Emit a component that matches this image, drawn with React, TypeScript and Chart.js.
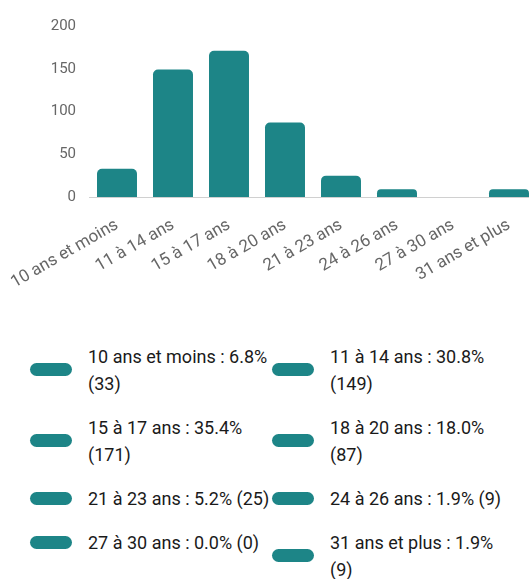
import React, { useEffect, useRef } from "react";
import { Chart, registerables } from "chart.js";

Chart.register(...registerables);

const categories = [
  "10 ans et moins",
  "11 à 14 ans",
  "15 à 17 ans",
  "18 à 20 ans",
  "21 à 23 ans",
  "24 à 26 ans",
  "27 à 30 ans",
  "31 ans et plus",
];
const counts = [33, 149, 171, 87, 25, 9, 0, 9];
const yTickValues = [0, 50, 100, 150, 200];

const TEAL = "#1d8587";
const total = counts.reduce((a, b) => a + b, 0);
const legendLabels = categories.map(
  (c, i) => `${c} : ${((counts[i] / total) * 100).toFixed(1)}% (${counts[i]})`
);

export default function App() {
  const canvasRef = useRef<HTMLCanvasElement | null>(null);

  useEffect(() => {
    if (!canvasRef.current) return;
    Chart.defaults.font.family = "Roboto, 'Liberation Sans', sans-serif";
    const chart = new Chart(canvasRef.current, {
      type: "bar",
      data: {
        labels: categories,
        datasets: [
          {
            data: counts,
            backgroundColor: TEAL,
            borderRadius: 5,
            borderSkipped: "start",
            barPercentage: 0.714,
            categoryPercentage: 1,
          },
        ],
      },
      options: {
        animation: false,
        responsive: true,
        maintainAspectRatio: false,
        layout: { padding: { top: 26, right: 8, left: 0, bottom: 0 } },
        plugins: {
          legend: { display: false },
          tooltip: { enabled: false },
        },
        scales: {
          x: {
            afterFit: (scale: any) => {
              scale.paddingLeft = 0;
              scale.paddingRight = 0;
            },
            grid: { display: false, drawTicks: false },
            border: { display: true, color: "#d0d0d0", width: 1 },
            ticks: {
              autoSkip: false,
              minRotation: 30,
              maxRotation: 30,
              padding: 18,
              color: "#666666",
              font: { size: 17 },
            },
          },
          y: {
            min: yTickValues[0],
            max: yTickValues[yTickValues.length - 1],
            afterFit: (scale: any) => {
              scale.width = 89;
            },
            afterBuildTicks: (scale: any) => {
              scale.ticks = yTickValues.map((v) => ({ value: v }));
            },
            grid: { display: false, drawTicks: false },
            border: { display: false },
            ticks: {
              padding: 13,
              color: "#666666",
              font: { size: 15 },
            },
          },
        },
      },
    });
    return () => chart.destroy();
  }, []);

  return (
    <div
      style={{
        position: "absolute",
        left: 0,
        top: 0,
        width: 529,
        height: 579,
        overflow: "hidden",
        background: "#ffffff",
      }}
    >
      <div style={{ position: "absolute", left: 0, top: 0, width: 545, height: 311 }}>
        <canvas ref={canvasRef} />
      </div>
      <div
        style={{
          position: "absolute",
          left: 30,
          top: 334,
          display: "grid",
          gridTemplateColumns: "242px 242px",
          alignItems: "start",
          fontFamily: "Roboto, sans-serif",
          fontSize: 18,
          lineHeight: "27px",
          color: "#1a1a1a",
        }}
      >
        {legendLabels.map((t, i) => (
          <div
            key={i}
            style={{ display: "flex", alignItems: "center", padding: "8.5px 0" }}
          >
            <div
              style={{
                width: 42,
                height: 13,
                borderRadius: 7,
                background: TEAL,
                marginRight: 16,
                flexShrink: 0,
              }}
            />
            <div style={{ width: 185 }}>{t}</div>
          </div>
        ))}
      </div>
    </div>
  );
}
